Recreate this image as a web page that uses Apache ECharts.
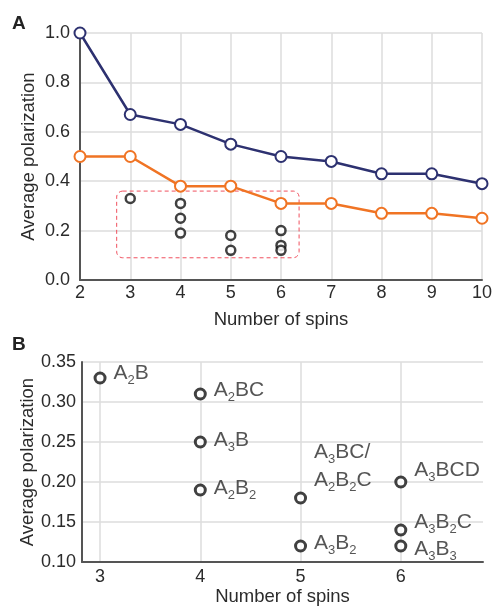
<!DOCTYPE html>
<html>
<head>
  <meta charset="utf-8">
  <title>polarization</title>
  <style>html,body{margin:0;padding:0;background:#fff;}</style>
</head>
<body>
<div id="main" style="width:492px;height:606px;"></div>
<script src="https://cdn.jsdelivr.net/npm/echarts@6/dist/echarts.min.js"></script>
<script>
  // top panel (A)
  var spins = [2, 3, 4, 5, 6, 7, 8, 9, 10];
  var blueVals = [1.0, 0.67, 0.63, 0.55, 0.50, 0.48, 0.43, 0.43, 0.39];
  var orangeVals = [0.50, 0.50, 0.38, 0.38, 0.31, 0.31, 0.27, 0.27, 0.25];
  // clusters (shown in A, labelled in B)
  var clusterSpins = [3, 4, 4, 4, 5, 5, 6, 6, 6];
  var clusterVals = [0.33, 0.31, 0.25, 0.19, 0.18, 0.12, 0.20, 0.14, 0.12];
  var clusterNames = [
    '{n|A}{s|2}{n|B}',
    '{n|A}{s|2}{n|BC}',
    '{n|A}{s|3}{n|B}',
    '{n|A}{s|2}{n|B}{s|2}',
    '{n|A}{s|3}{n|BC/}\n{n|A}{s|2}{n|B}{s|2}{n|C}',
    '{n|A}{s|3}{n|B}{s|2}',
    '{n|A}{s|3}{n|BCD}',
    '{n|A}{s|3}{n|B}{s|2}{n|C}',
    '{n|A}{s|3}{n|B}{s|3}'
  ];
  var labelOffsets = [[0, -5], [0, -4], [0, -2], [0, -2], [0, -32], [0, -3], [0, -12], [0, -8], [0, 3]];
  var bTicks = [3, 4, 5, 6];

  var font = 'Liberation Sans, Arial, sans-serif';
  var txt = '#2b2b2b';

  function pairs(xs, ys) {
    return xs.map(function (x, i) { return [x, ys[i]]; });
  }

  var chart = echarts.init(document.getElementById('main'));

  var axisCommon = {
    axisLine: { show: true, lineStyle: { color: '#555', width: 2 } },
    axisTick: { show: false },
    splitLine: { show: true, lineStyle: { color: '#dcdcdc', width: 1.5 } },
    axisLabel: { color: txt, fontSize: 18, fontFamily: font },
    nameTextStyle: { color: txt, fontSize: 18.5, fontFamily: font },
    nameMoveOverlap: false
  };

  var option = {
    animation: false,
    backgroundColor: '#fff',
    grid: [
      { left: 80, right: 10, top: 33, height: 247, outerBoundsMode: 'none' },
      { left: 82, right: 9, top: 362, height: 200, outerBoundsMode: 'none' }
    ],
    xAxis: [
      Object.assign({}, axisCommon, {
        gridIndex: 0, type: 'value', min: 2, max: 10, interval: 1,
        name: 'Number of spins', nameLocation: 'middle', nameGap: 30,
        axisLabel: Object.assign({}, axisCommon.axisLabel, { margin: 4 })
      }),
      Object.assign({}, axisCommon, {
        gridIndex: 1, type: 'value', min: 2.82, max: 6.82,
        name: 'Number of spins', nameLocation: 'middle', nameGap: 25,
        axisTick: { show: false, customValues: bTicks },
        axisLabel: Object.assign({}, axisCommon.axisLabel, { margin: 6, customValues: bTicks })
      })
    ],
    yAxis: [
      Object.assign({}, axisCommon, {
        gridIndex: 0, type: 'value', min: 0, max: 1, interval: 0.2,
        name: 'Average polarization', nameLocation: 'middle', nameGap: 42,
        axisLabel: Object.assign({}, axisCommon.axisLabel, {
          margin: 10,
          formatter: function (v) { return v.toFixed(1); }
        })
      }),
      Object.assign({}, axisCommon, {
        gridIndex: 1, type: 'value', min: 0.10, max: 0.35, interval: 0.05,
        name: 'Average polarization', nameLocation: 'middle', nameGap: 45,
        axisLabel: Object.assign({}, axisCommon.axisLabel, {
          margin: 6,
          formatter: function (v) { return v.toFixed(2); }
        })
      })
    ],
    series: [
      {
        type: 'line', xAxisIndex: 0, yAxisIndex: 0,
        data: pairs(spins, blueVals),
        symbol: 'circle', symbolSize: 11,
        lineStyle: { color: '#2d3170', width: 2.5 },
        itemStyle: { color: '#fff', borderColor: '#2d3170', borderWidth: 2 },
        z: 3
      },
      {
        type: 'line', xAxisIndex: 0, yAxisIndex: 0,
        data: pairs(spins, orangeVals),
        symbol: 'circle', symbolSize: 11,
        lineStyle: { color: '#f07424', width: 2.5 },
        itemStyle: { color: '#fff', borderColor: '#f07424', borderWidth: 2 },
        z: 3
      },
      {
        type: 'scatter', xAxisIndex: 0, yAxisIndex: 0,
        data: pairs(clusterSpins, clusterVals),
        symbol: 'circle', symbolSize: 9,
        itemStyle: { color: '#fff', borderColor: '#111', borderWidth: 2.5 },
        z: 4
      },
      {
        type: 'scatter', xAxisIndex: 1, yAxisIndex: 1,
        data: clusterSpins.map(function (x, i) {
          return {
            value: [x, clusterVals[i]],
            label: { formatter: clusterNames[i], offset: labelOffsets[i] }
          };
        }),
        symbol: 'circle', symbolSize: 10,
        itemStyle: { color: '#fff', borderColor: '#111', borderWidth: 3 },
        label: {
          show: true, position: 'right', distance: 7, color: txt,
          rich: {
            n: { fontSize: 21, fontFamily: font, color: txt, lineHeight: 28 },
            s: { fontSize: 13, fontFamily: font, color: txt, lineHeight: 28, padding: [15, 0, 0, 0] }
          }
        },
        z: 4
      }
    ]
  };

  chart.setOption(option);

  // dashed highlight box around the cluster points (data coordinates)
  var boxFrom = [2.73, 0.36];
  var boxTo = [6.36, 0.09];
  var p1 = chart.convertToPixel({ gridIndex: 0 }, boxFrom);
  var p2 = chart.convertToPixel({ gridIndex: 0 }, boxTo);
  chart.setOption({
    graphic: [
      { type: 'text', left: 12, top: 14, style: { text: 'A', font: 'bold 19px ' + font, fill: '#222' } },
      { type: 'text', left: 12, top: 335, style: { text: 'B', font: 'bold 19px ' + font, fill: '#222' } },
      {
        type: 'rect', z: 2,
        shape: { x: p1[0], y: p1[1], width: p2[0] - p1[0], height: p2[1] - p1[1], r: 6 },
        style: { fill: 'none', stroke: '#f0505e', lineWidth: 1, lineDash: [4, 3] }
      }
    ]
  });
</script>
</body>
</html>
